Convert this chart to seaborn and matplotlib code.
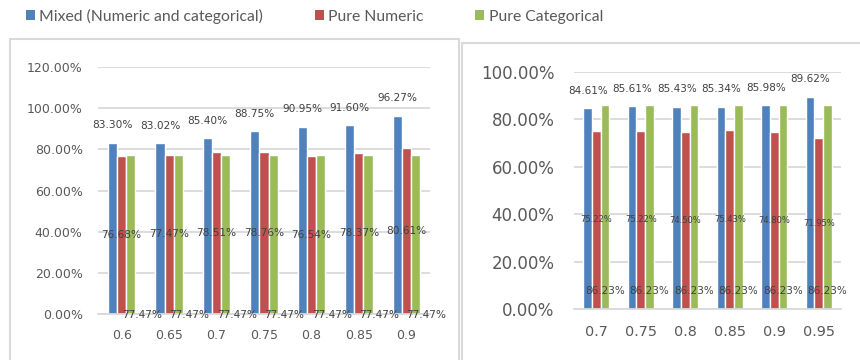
import numpy as np
import pandas as pd
import matplotlib
matplotlib.use("Agg")
import matplotlib.pyplot as plt
import seaborn as sns
from matplotlib.patches import Rectangle, Patch
from matplotlib.ticker import PercentFormatter, MultipleLocator

# Series shared by both panels
series = ["Mixed (Numeric and categorical)", "Pure Numeric", "Pure Categorical"]
colors = ["#4F81BD", "#C0504D", "#9BBB59"]

# Left panel: accuracy (%) per threshold
left_thresholds = ["0.6", "0.65", "0.7", "0.75", "0.8", "0.85", "0.9"]
left_mixed = [83.30, 83.02, 85.40, 88.75, 90.95, 91.60, 96.27]
left_numeric = [76.68, 77.47, 78.51, 78.76, 76.54, 78.37, 80.61]
left_categorical = [77.47, 77.47, 77.47, 77.47, 77.47, 77.47, 77.47]

# Right panel: accuracy (%) per threshold
right_thresholds = ["0.7", "0.75", "0.8", "0.85", "0.9", "0.95"]
right_mixed = [84.61, 85.61, 85.43, 85.34, 85.98, 89.62]
right_numeric = [75.22, 75.22, 74.50, 75.43, 74.80, 71.95]
right_categorical = [86.23, 86.23, 86.23, 86.23, 86.23, 86.23]

sns.set_style("white")
plt.rcParams["font.family"] = ["DejaVu Sans"]

GRID = "#d9d9d9"
TICK_TXT = "#595959"
VAL_TXT = "#404040"


def long_frame(thresholds, mixed, numeric, categorical):
    rows = []
    for name, vals in zip(series, [mixed, numeric, categorical]):
        for t, v in zip(thresholds, vals):
            rows.append({"threshold": t, "method": name, "accuracy": v})
    return pd.DataFrame(rows)


def draw_panel(ax, thresholds, mixed, numeric, categorical, ymax,
               ytick_size, xtick_size, ypad, xpad,
               top_size, mid_size, base_size, base_offset):
    df = long_frame(thresholds, mixed, numeric, categorical)
    sns.barplot(data=df, x="threshold", y="accuracy", hue="method",
                order=thresholds, hue_order=series, palette=colors,
                saturation=1, width=0.58, errorbar=None, legend=False, ax=ax)
    ax.set_ylim(0, ymax)
    ax.yaxis.set_major_locator(MultipleLocator(20))
    ax.yaxis.set_major_formatter(PercentFormatter(xmax=100, decimals=2))
    ax.set_axisbelow(True)
    ax.grid(axis="y", color=GRID, linewidth=1.3)
    ax.grid(axis="x", visible=False)
    for side in ("left", "top", "right"):
        ax.spines[side].set_visible(False)
    ax.spines["bottom"].set_color(GRID)
    ax.spines["bottom"].set_linewidth(1.3)
    ax.tick_params(axis="y", length=0, pad=ypad, labelsize=ytick_size,
                   labelcolor=TICK_TXT)
    ax.tick_params(axis="x", length=0, pad=xpad, labelsize=xtick_size,
                   labelcolor=TICK_TXT)
    ax.set_xlabel("")
    ax.set_ylabel("")

    c_mixed, c_num, c_cat = ax.containers[:3]
    ax.bar_label(c_mixed, labels=[f"{v:.2f}%" for v in mixed], padding=9,
                 fontsize=top_size, color=VAL_TXT)
    ax.bar_label(c_num, labels=[f"{v:.2f}%" for v in numeric],
                 label_type="center", fontsize=mid_size, color=VAL_TXT)
    for bar, v in zip(c_cat, categorical):
        ax.annotate(f"{v:.2f}%",
                    xy=(bar.get_x() + bar.get_width() / 2, 0),
                    xytext=base_offset, textcoords="offset points",
                    ha="center", va="center", fontsize=base_size,
                    color=VAL_TXT, annotation_clip=False)


W, H = 860, 360
fig = plt.figure(figsize=(W / 100, H / 100), dpi=100)

# Panel frames
fig.add_artist(Rectangle((10 / W, -0.1), (459 - 10) / W, 1 - 39 / H + 0.1,
                         transform=fig.transFigure, fill=False,
                         edgecolor=GRID, linewidth=1.5))
fig.add_artist(Rectangle((462 / W, -0.1), 0.6, 1 - 43 / H + 0.1,
                         transform=fig.transFigure, fill=False,
                         edgecolor=GRID, linewidth=1.5))

ax_left = fig.add_axes([98 / W, 1 - 314 / H, (430 - 98) / W, (314 - 67) / H])
ax_right = fig.add_axes([574 / W, 1 - 309 / H, (841 - 574) / W, (309 - 72) / H])

draw_panel(ax_left, left_thresholds, left_mixed, left_numeric, left_categorical,
           ymax=120, ytick_size=9, xtick_size=9, ypad=11, xpad=11,
           top_size=7.6, mid_size=7.6, base_size=7.6, base_offset=(8, -0.7))
draw_panel(ax_right, right_thresholds, right_mixed, right_numeric,
           right_categorical, ymax=100, ytick_size=12, xtick_size=10.4,
           ypad=14, xpad=11.5, top_size=7.5, mid_size=6, base_size=7.5,
           base_offset=(0, 13))

handles = [Patch(facecolor=c, edgecolor="none", label=s)
           for c, s in zip(colors, series)]
fig.legend(handles=handles, loc="center left",
           bbox_to_anchor=(26 / W, 1 - 16 / H), ncol=3, frameon=False,
           borderpad=0, borderaxespad=0, handlelength=0.58,
           handleheight=0.52, handletextpad=0.26, columnspacing=3.3,
           prop={"family": "Lato", "size": 11.3}, labelcolor=TICK_TXT)

fig.savefig("out.png", dpi=100, facecolor="white")
